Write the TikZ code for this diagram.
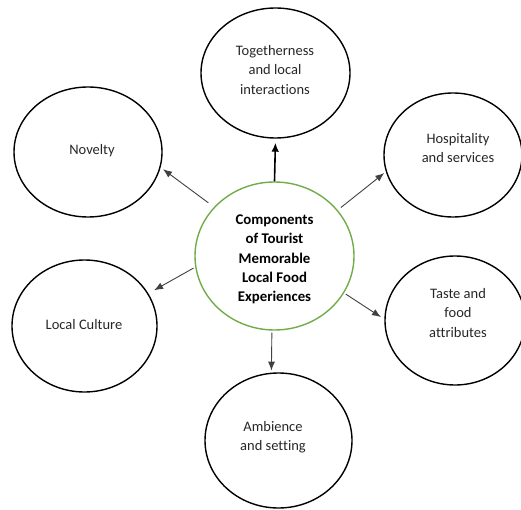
\documentclass[tikz,border=0pt]{standalone}
\usepackage{fontspec}
\setmainfont[Ligatures={NoCommon}]{Carlito}
\usetikzlibrary{shapes.geometric,arrows.meta}
\definecolor{offgreen}{HTML}{70AD47}
\definecolor{txt}{HTML}{262626}
\tikzset{
  ell/.style={draw=black, line width=1.4pt, ellipse, inner sep=0pt},
  core/.style={draw=offgreen, line width=1.4pt, ellipse, inner sep=0pt, fill=white},
  lbl/.style={align=center, text=txt, font=\fontsize{14.5}{19.5}\selectfont, inner sep=0pt},
  corelbl/.style={align=center, text=black, font=\fontsize{14.8}{19.4}\selectfont\bfseries, inner sep=0pt},
  link/.style={draw=black!75, line width=0.9pt, -{Latex[length=9pt,width=7pt]}},
  biglink/.style={draw=black, line width=1.6pt, -{Latex[length=9pt,width=7.5pt]}}
}
\begin{document}
\begin{tikzpicture}[x=1pt,y=-1pt]
\useasboundingbox (0,0) rectangle (521,510);
\clip (0,0) rectangle (521,510);
% ellipses
\node[core, minimum width=159pt, minimum height=148pt] (C) at (274.5,256) {};
\node[ell, minimum width=149pt, minimum height=130pt] (T) at (275.5,73) {};
\node[ell, minimum width=148pt, minimum height=130pt] (N) at (88,152) {};
\node[ell, minimum width=138pt, minimum height=124pt] (H) at (453,155) {};
\node[ell, minimum width=140pt, minimum height=129pt] (Ta) at (455,320.5) {};
\node[ell, minimum width=145pt, minimum height=132pt] (L) at (84.5,326) {};
\node[ell, minimum width=147pt, minimum height=135pt] (A) at (278.5,440.5) {};
% labels
\node[corelbl] (Ct) at (274.5,259.5) {Components\\of Tourist\\Memorable\\Local Food\\Experiences};
\node[lbl] (Tt) at (275,70) {Togetherness\\and local\\interactions};
\node[lbl] (Nt) at (92,151) {Novelty};
\node[lbl] (Ht) at (458,148) {Hospitality\\and services};
\node[lbl] (Tat) at (458,313) {Taste and\\food\\attributes};
\node[lbl] (Lt) at (84,325) {Local Culture};
\node[lbl] (At) at (273,437) {Ambience\\and setting};
% connectors
\draw[biglink, shorten >=4pt] (C.90) -- (T.270);
\draw[link, shorten <=7pt, shorten >=3pt] (C.141) -- (N.-12);
\draw[link, shorten <=4pt, shorten >=2pt] (C.36) -- (H.194);
\draw[link, shorten <=2pt, shorten >=6.5pt] (C.188) -- (L.27);
\draw[link, shorten <=2pt, shorten >=4pt] (C.-28) -- (Ta.179);
\draw[link, shorten <=2pt, shorten >=2pt] (C.-92.5) -- (A.96.5);
\end{tikzpicture}
\end{document}
